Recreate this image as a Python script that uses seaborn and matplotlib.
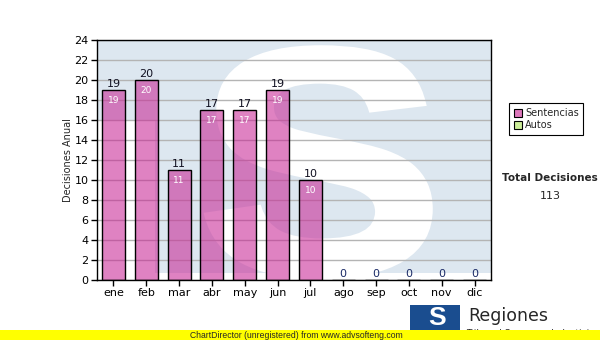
import matplotlib
matplotlib.use("Agg")
import matplotlib.pyplot as plt
import seaborn as sns
import pandas as pd
from matplotlib.patches import Rectangle, PathPatch
from matplotlib.textpath import TextPath
from matplotlib.font_manager import FontProperties
from matplotlib.transforms import Affine2D

months = ["ene", "feb", "mar", "abr", "may", "jun", "jul", "ago", "sep", "oct", "nov", "dic"]
sentencias = [19, 20, 11, 17, 17, 19, 10, 0, 0, 0, 0, 0]
autos = [0, 0, 0, 0, 0, 0, 0, 0, 0, 0, 0, 0]
total = 113
y_ticks = list(range(0, 25, 2))

sns.set_theme(style="white")
plt.rcParams['font.family'] = ['DejaVu Sans']

W, H = 600, 340
X0, X1, Y0, Y1 = 97, 491, 40, 280
fig = plt.figure(figsize=(6, 3.4), dpi=100)
ax = fig.add_axes([X0 / W, 1 - Y1 / H, (X1 - X0) / W, (Y1 - Y0) / H])
ax.set_facecolor("white")


def ax_x(px):
    return (px - X0) / (X1 - X0)


def ax_y(py):
    return (Y1 - py) / (Y1 - Y0)


# watermark logo (light blue T-block with white S)
wm = "#dde7f0"
ax.add_patch(Rectangle((0, ax_y(120)), 1, 1 - ax_y(120), transform=ax.transAxes,
                       facecolor=wm, edgecolor="none", zorder=0))
ax.add_patch(Rectangle((ax_x(155), ax_y(273)), 1 - ax_x(155), ax_y(120) - ax_y(273),
                       transform=ax.transAxes, facecolor=wm, edgecolor="none", zorder=0))
tp = TextPath((0, 0), "S", size=100, prop=FontProperties(family="Liberation Sans", weight="bold"))
bb = tp.get_extents()
sx0, sx1, sy0, sy1 = ax_x(207), ax_x(430), ax_y(276), ax_y(48)
tr = (Affine2D().translate(-bb.x0, -bb.y0)
      .scale((sx1 - sx0) / bb.width, (sy1 - sy0) / bb.height)
      .translate(sx0, sy0) + ax.transAxes)
ax.add_patch(PathPatch(tp, transform=tr, facecolor="white", edgecolor="white", linewidth=4,
                       zorder=0.5, clip_on=True))

df = pd.DataFrame({"mes": months, "Sentencias": sentencias})
bar_color = "#c82896"
sns.barplot(data=df, x="mes", y="Sentencias", color=bar_color, edgecolor="black",
            linewidth=1, width=0.7, saturation=1, ax=ax, zorder=3)
for p in ax.patches:
    if isinstance(p, Rectangle) and p.get_zorder() == 3:
        fc = p.get_facecolor()
        p.set_facecolor((fc[0], fc[1], fc[2], 0.58))

ax.set_ylim(0, 24)
ax.set_yticks(y_ticks)
ax.yaxis.grid(True, color="#b4b4b4", linewidth=1, zorder=1)
ax.set_axisbelow(False)
for gl in ax.get_ygridlines():
    gl.set_zorder(1)
for s in ax.spines.values():
    s.set_visible(True)
    s.set_color("black")
    s.set_linewidth(1)
    s.set_zorder(5)
ax.tick_params(axis="both", which="both", direction="out", length=4, width=1,
               color="black", labelsize=8, labelcolor="black", pad=2,
               left=True, bottom=True)
ax.set_xlabel("")
ax.set_ylabel("Decisiones Anual", fontsize=7)
ax.yaxis.set_label_coords(-(X0 - 73) / (X1 - X0), 0.5)

cont = ax.containers[0]
top_labels = ax.bar_label(cont, labels=[str(v) for v in sentencias], padding=1, fontsize=8,
                          color="#101020")
for t, v in zip(top_labels, sentencias):
    if v == 0:
        t.set_color("#1a2a66")
ax.bar_label(cont, labels=[str(v) if v > 0 else "" for v in sentencias], label_type="edge",
             padding=-11, fontsize=6.5, color="white")

# legend
fig.patches.append(Rectangle((509 / W, 1 - 135 / H), 74 / W, 32 / H, transform=fig.transFigure,
                             facecolor="white", edgecolor="black", linewidth=0.8))
for i, (name, col) in enumerate([("Sentencias", "#dd77bb"), ("Autos", "#ccee99")]):
    yy = 113 + i * 12
    fig.patches.append(Rectangle((514 / W, 1 - (yy + 4) / H), 8 / W, 8 / H, transform=fig.transFigure,
                                 facecolor=col, edgecolor="black", linewidth=0.8))
    fig.text(525 / W, 1 - yy / H, name, fontsize=7, va="center", ha="left")

fig.text(550 / W, 1 - 178 / H, "Total Decisiones", fontsize=7.5, fontweight="bold",
         ha="center", va="center")
fig.text(550 / W, 1 - 196 / H, str(total), fontsize=8, ha="center", va="center")

# logo
fig.patches.append(Rectangle((410 / W, 0), 50 / W, 35 / H, transform=fig.transFigure,
                             facecolor="#1a4d8f", edgecolor="none"))
fig.text(437 / W, 1 - 318 / H, "S", fontsize=19, fontweight="bold", color="white",
         family="Liberation Sans", ha="center", va="center")
fig.text(468 / W, 1 - 316 / H, "Regiones", fontsize=12.5, ha="left", va="center")
fig.text(466 / W, 1 - 334 / H, "Tribunal Supremo de Justicia", fontsize=6.5, ha="left", va="center")

# yellow banner
fig.patches.append(Rectangle((0, 0), 1, 10 / H, transform=fig.transFigure,
                             facecolor="#ffff00", edgecolor="none", zorder=10))
fig.text(190 / W, 5 / H, "ChartDirector (unregistered) from www.advsofteng.com", fontsize=6.2,
         family="Liberation Sans", ha="left", va="center", zorder=11)

fig.savefig("out.png", dpi=100)
